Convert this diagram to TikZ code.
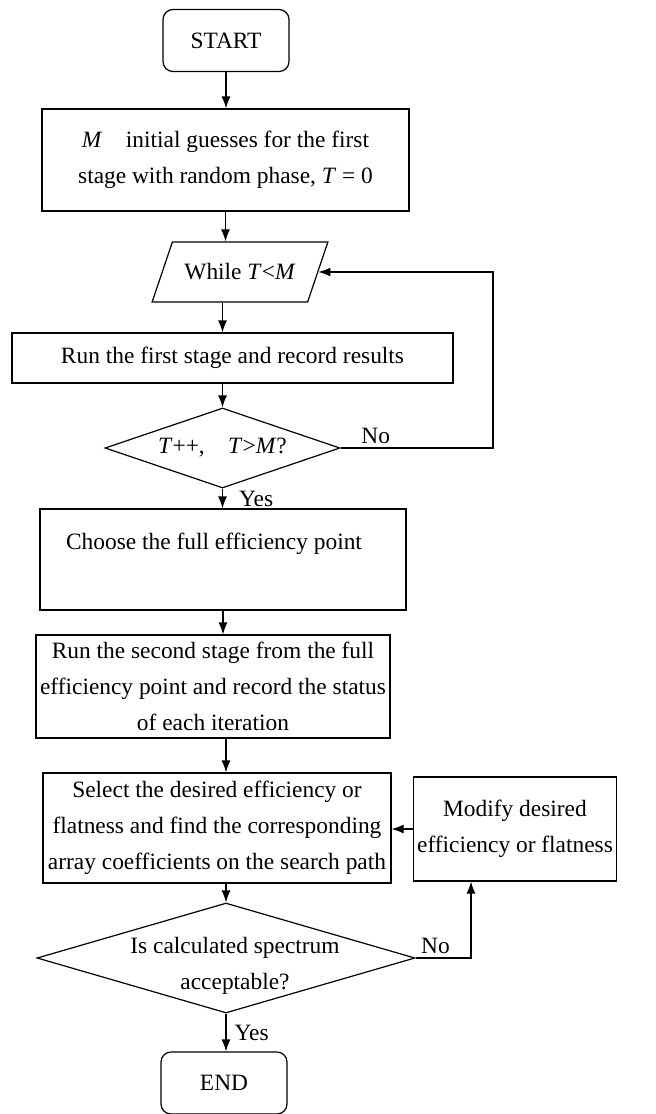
\documentclass[tikz,border=0pt]{standalone}
\usepackage{fontspec}
\setmainfont{Liberation Serif}
\usetikzlibrary{shapes.geometric,arrows.meta}

\begin{document}
\begin{tikzpicture}[
x=0.5pt,
y=-0.5pt,
line width=0.6pt,
every node/.style={
  font=\fontsize{11.7}{18}\selectfont,
  inner sep=2pt,
  align=center
  },
term/.style={
  draw,
  rounded corners=5pt,
  minimum width=63pt,
  minimum height=31pt
  },
proc/.style={
  draw,
  rectangle
  },
test/.style={
  draw,
  diamond,
  inner sep=-3pt
  },
io/.style={
  draw,
  trapezium,
  trapezium left angle=54,
  trapezium right angle=126,
  trapezium stretches=true
  },
>={Latex[length=6pt,width=4.5pt]}
]
\useasboundingbox (0,0) rectangle (656,1114);
\node[term] (start) at (226,40.5) {START};
\node[proc, minimum width=183.5pt, minimum height=51pt] (init) at (225.5,160)
  {\textit{M}\quad initial guesses for the first\\stage with random phase, \textit{T} = 0};
\node[io, minimum width=88pt, minimum height=30pt] (while) at (240,272) {While \textit{T}<\textit{M}};
\node[proc, minimum width=220.5pt, minimum height=25pt] (run1) at (232.5,358)
  {Run the first stage and record results};
\node[test, shape aspect=2.94, minimum width=117.5pt, minimum height=40pt] (test1) at (222.5,448)
  {\textit{T}++,\quad \textit{T}>\textit{M}?};
\node[proc, minimum width=183pt, minimum height=50.5pt] (choose) at (223,559.5)
  {Choose the full efficiency point\hspace*{9pt}\\\mbox{}};
\node[proc, minimum width=174pt, minimum height=51.5pt] (run2) at (213,686.5)
  {Run the second stage from the full\\efficiency point and record the status\\of each iteration};
\node[proc, minimum width=174pt, minimum height=55pt] (select) at (217,828)
  {Select the desired efficiency or\\flatness and find the corresponding\\array coefficients on the search path};
\node[proc, minimum width=100pt, minimum height=52pt] (modify) at (515,829)
  {Modify desired\\efficiency or flatness};
\node[test, inner sep=-10pt, shape aspect=3.44, minimum width=189pt, minimum height=55pt] (test2) at (226,958)
  {\rule{0pt}{16pt}\hspace*{9pt}Is calculated spectrum\\\hspace*{9pt}acceptable?};
\node[term] (stop) at (224,1083) {END};
% main flow
\draw[->] (start.south) -- (start.south |- init.north);
\draw[->] (init.south) -- (init.south |- while.north);
\draw[->] (while.south -| test1.north) -- (test1.north |- run1.north);
\draw[->] (run1.south -| test1.north) -- (test1.north);
\draw[->] (test1.south) -- node[right, xshift=6pt] {Yes} (test1.south |- choose.north);
\draw[->] (choose.south) -- (choose.south |- run2.north);
\draw[->] (run2.south -| test2.north) -- (test2.north |- select.north);
\draw[->] (select.south -| test2.north) -- (test2.north);
\draw[->] (test2.south) -- node[right, xshift=2pt] {Yes} (test2.south |- stop.north);
% loops back
\coordinate (back1) at (493,448);
\coordinate (back2) at (471,958);
\draw[->] (test1.east) -- node[above, pos=0.23] {No} (back1) |- (while.east);
\draw[->] (test2.east) -- node[above, pos=0.36] {No} (back2) -- (back2 |- modify.south);
\draw[->] (modify.west) -- (modify.west -| select.east);
\end{tikzpicture}
\end{document}
